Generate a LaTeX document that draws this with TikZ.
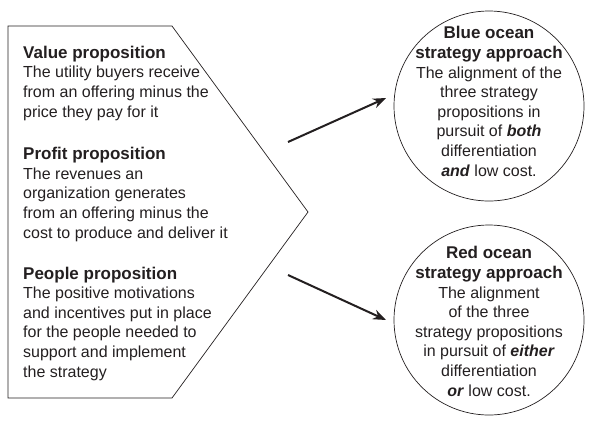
\documentclass[tikz,border=0pt]{standalone}
\usepackage{fontspec}
\setmainfont{Liberation Sans}
\usetikzlibrary{arrows.meta}
\definecolor{ink}{HTML}{231F20}
\newcommand{\headtxt}[1]{{\fontsize{17}{19.6}\selectfont\bfseries #1}}
\tikzset{
  shapeline/.style={draw=ink, line width=0.7pt},
  bigcircle/.style={circle, shapeline, minimum size=190pt, inner sep=0pt},
  bodytext/.style={inner sep=0pt, text=ink, font=\fontsize{16}{19.6}\selectfont},
  sidetext/.style={bodytext, anchor=base west, align=left},
  circtext/.style={bodytext, anchor=base, align=center},
  flowarrow/.style={draw=ink, line width=2pt, -{Stealth[length=13pt,width=10pt]}}
}
\begin{document}
\begin{tikzpicture}[x=1pt,y=-1pt]
\useasboundingbox (0,0) rectangle (593,424);
% pentagon
\coordinate (p1) at (8,26);
\coordinate (p2) at (172,26);
\coordinate (p3) at (308,212);
\coordinate (p4) at (172,398);
\coordinate (p5) at (8,398);
\draw[shapeline] (p1) -- (p2) -- (p3) -- (p4) -- (p5) -- cycle;
% text nodes: base anchor is the baseline of the last line
\node[sidetext] (value) at (23,117) {\headtxt{Value proposition}\\The utility buyers receive\\from an offering minus the\\price they pay for it};
\node[sidetext] (profit) at (23,238) {\headtxt{Profit proposition}\\The revenues an\\organization generates\\from an offering minus the\\cost to produce and deliver it};
\node[sidetext] (people) at (23,377) {\headtxt{People proposition}\\The positive motivations\\and incentives put in place\\for the people needed to\\support and implement\\the strategy};
% circles
\node[bigcircle] (blue) at (489,106) {};
\node[bigcircle] (red) at (489,320) {};
\node[circtext] (bluetext) at (489,176) {\headtxt{Blue ocean}\\\headtxt{strategy approach}\\The alignment of the\\three strategy\\propositions in\\pursuit of \textbf{\textit{both}}\\differentiation\\\textbf{\textit{and}} low cost.};
\node[circtext] (redtext) at (489,396) {\headtxt{Red ocean}\\\headtxt{strategy approach}\\The alignment\\of the three\\strategy propositions\\in pursuit of \textbf{\textit{either}}\\differentiation\\\textbf{\textit{or}} low cost.};
% arrows
\coordinate (a1s) at (288,142);
\coordinate (a1e) at (386,98);
\coordinate (a2s) at (288,275);
\coordinate (a2e) at (386,320);
\draw[flowarrow] (a1s) -- (a1e);
\draw[flowarrow] (a2s) -- (a2e);
\end{tikzpicture}
\end{document}
